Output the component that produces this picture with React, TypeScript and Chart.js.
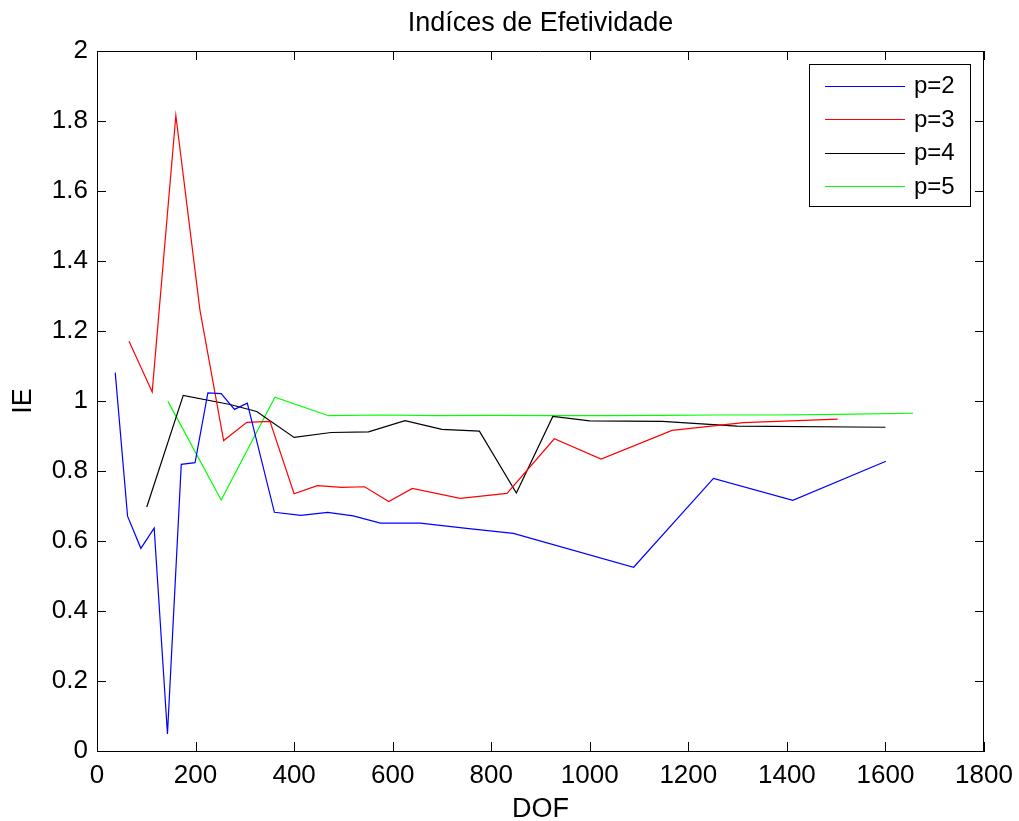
import React, { useEffect, useRef } from "react";
import { Chart, registerables } from "chart.js";

Chart.register(...registerables);

// DOF / IE samples for each polynomial order
const dofP2 = [37, 62, 89, 116, 143, 171, 199, 225, 252, 279, 305, 360, 414, 468, 520, 575, 656, 750, 845, 1089, 1251, 1412, 1601];
const ieP2 = [1.081, 0.671, 0.579, 0.637, 0.049, 0.819, 0.824, 1.023, 1.021, 0.976, 0.994, 0.682, 0.673, 0.682, 0.672, 0.651, 0.651, 0.636, 0.622, 0.525, 0.779, 0.716, 0.828];

const dofP3 = [65, 112, 160, 209, 257, 304, 351, 400, 447, 497, 543, 592, 640, 737, 832, 928, 1023, 1167, 1312, 1503];
const ieP3 = [1.171, 1.026, 1.816, 1.259, 0.887, 0.939, 0.942, 0.735, 0.758, 0.753, 0.755, 0.713, 0.75, 0.722, 0.736, 0.892, 0.834, 0.916, 0.938, 0.948];

const dofP4 = [101, 175, 270, 324, 400, 475, 551, 625, 700, 776, 851, 925, 1000, 1147, 1299, 1600];
const ieP4 = [0.697, 1.016, 0.99, 0.97, 0.896, 0.91, 0.912, 0.944, 0.919, 0.914, 0.737, 0.956, 0.943, 0.942, 0.928, 0.925];

const dofP5 = [144, 252, 361, 470, 580, 690, 800, 920, 1030, 1140, 1260, 1380, 1500, 1656];
const ieP5 = [0.999, 0.717, 1.011, 0.958, 0.96, 0.958, 0.959, 0.958, 0.958, 0.959, 0.96, 0.96, 0.962, 0.965];

const seriesLabels = ["p=2", "p=3", "p=4", "p=5"];
const seriesColors = ["#0000ff", "#ff0000", "#000000", "#00ff00"];

const chartTitle = "Indíces de Efetividade";
const xTicksMax = 1800;
const yTicksMax = 2;

const FONT = '"Liberation Sans", Arial, Helvetica, sans-serif';

const toPoints = (xs: number[], ys: number[]) => xs.map((x, i) => ({ x, y: ys[i] }));

// MATLAB-style frame: title over the plot area, box on, inward ticks on every side, boxed legend
const framePlugin = {
  id: "frame",
  afterDraw(chart: any) {
    const { ctx, chartArea } = chart;
    const { left, right, top, bottom } = chartArea;
    const xs = chart.scales.x;
    const ys = chart.scales.y;
    const tick = 9;
    ctx.save();

    ctx.fillStyle = "#000";
    ctx.font = `27px ${FONT}`;
    ctx.textAlign = "center";
    ctx.textBaseline = "alphabetic";
    ctx.fillText(chartTitle, (left + right) / 2, 31);

    ctx.strokeStyle = "#000";
    ctx.lineWidth = 1;
    ctx.beginPath();
    ctx.moveTo(left, top + 0.5);
    ctx.lineTo(right, top + 0.5);
    ctx.moveTo(right - 0.5, top);
    ctx.lineTo(right - 0.5, bottom);
    xs.ticks.forEach((t: any) => {
      const px = Math.round(xs.getPixelForValue(t.value)) + 0.5;
      ctx.moveTo(px, bottom);
      ctx.lineTo(px, bottom - tick);
      ctx.moveTo(px, top);
      ctx.lineTo(px, top + tick);
    });
    ys.ticks.forEach((t: any) => {
      const py = Math.round(ys.getPixelForValue(t.value)) + 0.5;
      ctx.moveTo(left, py);
      ctx.lineTo(left + tick, py);
      ctx.moveTo(right, py);
      ctx.lineTo(right - tick, py);
    });
    ctx.stroke();

    // legend box
    const bx = 809;
    const by = 64;
    const bw = 161;
    const bh = 142;
    ctx.fillStyle = "#fff";
    ctx.fillRect(bx, by, bw, bh);
    ctx.strokeStyle = "#000";
    ctx.strokeRect(bx + 0.5, by + 0.5, bw, bh);
    ctx.font = `24px ${FONT}`;
    ctx.textBaseline = "middle";
    ctx.textAlign = "left";
    chart.data.datasets.forEach((ds: any, i: number) => {
      const y = 85.5 + i * 33.5;
      ctx.strokeStyle = ds.borderColor;
      ctx.beginPath();
      ctx.moveTo(825, Math.round(y) + 0.5);
      ctx.lineTo(905, Math.round(y) + 0.5);
      ctx.stroke();
      ctx.fillStyle = "#000";
      ctx.fillText(ds.label, 914, y + 1);
    });
    ctx.restore();
  },
};

export default function App() {
  const ref = useRef<HTMLCanvasElement | null>(null);

  useEffect(() => {
    if (!ref.current) return;
    const series = [
      toPoints(dofP2, ieP2),
      toPoints(dofP3, ieP3),
      toPoints(dofP4, ieP4),
      toPoints(dofP5, ieP5),
    ];
    const chart = new Chart(ref.current, {
      type: "line",
      data: {
        datasets: series.map((data, i) => ({
          label: seriesLabels[i],
          data,
          borderColor: seriesColors[i],
          backgroundColor: seriesColors[i],
          borderWidth: 1.2,
          pointRadius: 0,
          tension: 0,
          fill: false,
        })),
      },
      options: {
        responsive: false,
        animation: false,
        layout: { padding: { top: 51, right: 35, bottom: 0, left: 0 } },
        plugins: {
          legend: { display: false },
          tooltip: { enabled: false },
          title: { display: false },
        },
        scales: {
          x: {
            type: "linear",
            min: 0,
            max: xTicksMax,
            afterFit: (s: any) => {
              s.height = 70;
              s.paddingLeft = 0;
              s.paddingRight = 0;
            },
            grid: { display: false, drawTicks: false },
            border: { display: true, color: "#000", width: 1 },
            ticks: {
              stepSize: 200,
              padding: 9,
              color: "#000",
              maxRotation: 0,
              font: { family: FONT, size: 26 },
              callback: (v: any) => String(v),
            },
            title: {
              display: true,
              text: "DOF",
              color: "#000",
              font: { family: FONT, size: 27, lineHeight: 0.85 },
              padding: 0,
            },
          },
          y: {
            type: "linear",
            min: 0,
            max: yTicksMax,
            afterFit: (s: any) => {
              s.width = 97;
              s.paddingTop = 0;
              s.paddingBottom = 0;
            },
            grid: { display: false, drawTicks: false },
            border: { display: true, color: "#000", width: 1 },
            ticks: {
              stepSize: 0.2,
              padding: 9,
              color: "#000",
              font: { family: FONT, size: 26 },
              callback: (v: any) => String(Math.round(Number(v) * 10) / 10),
            },
            title: {
              display: true,
              text: "IE",
              color: "#000",
              font: { family: FONT, size: 27 },
              padding: 7,
            },
          },
        },
      },
      plugins: [framePlugin],
    });
    return () => chart.destroy();
  }, []);

  return (
    <div style={{ position: "absolute", left: 0, top: 0, width: 1019, height: 821, background: "#fff" }}>
      <canvas ref={ref} width={1019} height={821} style={{ display: "block" }} />
    </div>
  );
}
